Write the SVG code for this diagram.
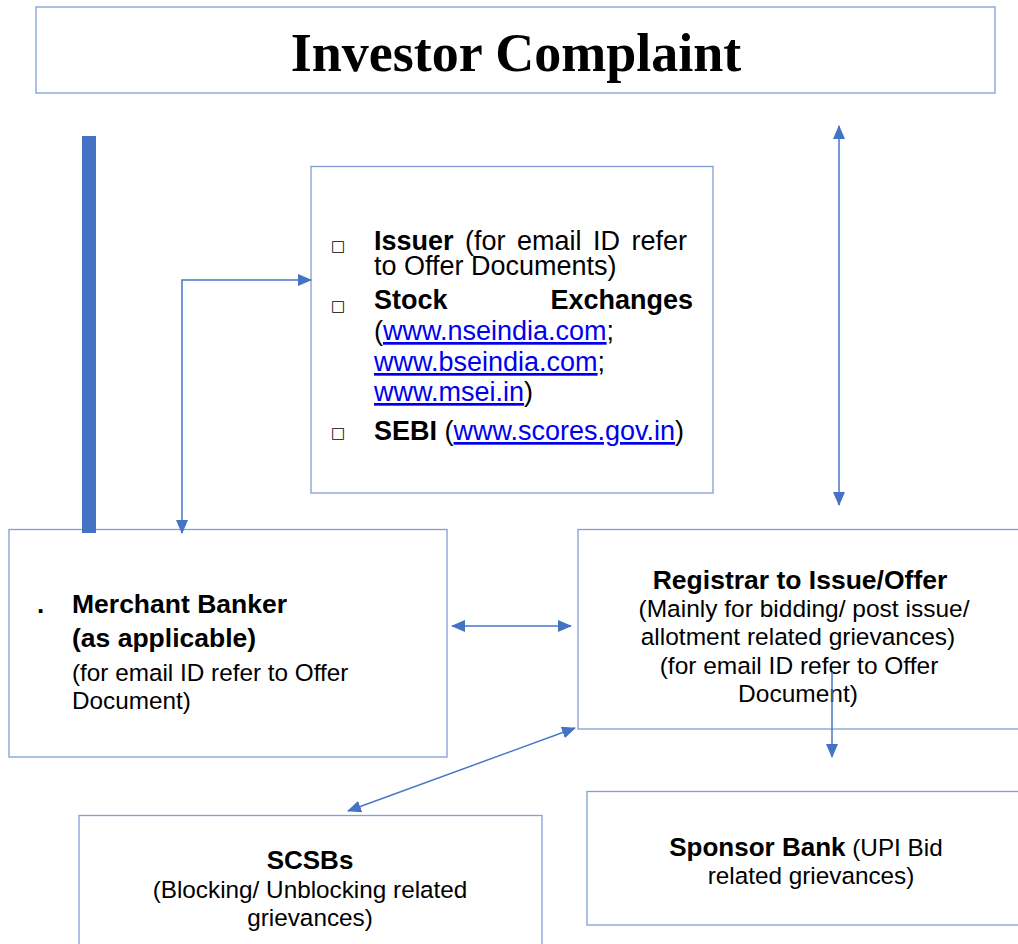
<svg xmlns="http://www.w3.org/2000/svg" width="1018" height="944" viewBox="0 0 1018 944">
<defs>
<style>
.box{fill:#ffffff;stroke:#7f9fd6;stroke-width:1.3}
.conn{fill:none;stroke:#4a76c6;stroke-width:1.5}
.t{font-family:"Liberation Sans",Arial,sans-serif;fill:#000}
.b{font-weight:bold}
.link{fill:#0000ee;text-decoration:underline}
.bul{font-family:"DejaVu Sans",sans-serif;font-size:15px;fill:#000}
</style>
<marker id="ah" markerUnits="userSpaceOnUse" markerWidth="14" markerHeight="12" refX="13" refY="6" orient="auto-start-reverse">
<path d="M0,0 L14,6 L0,12 z" fill="#4472c4"/>
</marker>
</defs>
<rect width="1018" height="944" fill="#ffffff"/>

<g id="title">
<rect class="box" x="36" y="7" width="959" height="86"/>
<text x="516" y="71" text-anchor="middle" font-family="'Liberation Serif','Times New Roman',serif" font-weight="bold" font-size="54">Investor Complaint</text>
</g>

<g id="issuer-box">
<rect class="box" x="311" y="166.5" width="402" height="326.5"/>
<g class="t" font-size="27">
<text class="bul" x="331" y="251">□</text>
<text x="374" y="250" word-spacing="4"><tspan class="b">Issuer</tspan> (for email ID refer</text>
<text x="374" y="275">to Offer Documents)</text>
<text class="bul" x="331" y="311">□</text>
<text x="374" y="309" class="b">Stock</text>
<text x="693" y="309" class="b" text-anchor="end">Exchanges</text>
<text x="374" y="340">(<tspan class="link">www.nseindia.com</tspan>;</text>
<text x="374" y="371"><tspan class="link">www.bseindia.com</tspan>;</text>
<text x="374" y="401"><tspan class="link">www.msei.in</tspan>)</text>
<text class="bul" x="331" y="438">□</text>
<text x="374" y="440"><tspan class="b">SEBI</tspan> (<tspan class="link">www.scores.gov.in</tspan>)</text>
</g>
</g>

<g id="merchant-banker">
<rect class="box" x="9" y="529.5" width="438" height="227.5"/>
<g class="t">
<text x="37" y="613" font-size="26" class="b">.</text>
<text x="72" y="613" font-size="26.5" class="b">Merchant Banker</text>
<text x="72" y="647" font-size="26.5" class="b">(as applicable)</text>
<text x="72" y="681" font-size="24.3">(for email ID refer to Offer</text>
<text x="72" y="709" font-size="24.3">Document)</text>
</g>
</g>

<g id="registrar">
<rect class="box" x="578" y="529.5" width="460" height="199.5"/>
<g class="t" text-anchor="middle">
<text x="800" y="589" font-size="26.5" class="b">Registrar to Issue/Offer</text>
<text x="804" y="617" font-size="24.5">(Mainly for bidding/ post issue/</text>
<text x="798" y="645" font-size="24.5">allotment related grievances)</text>
<text x="799" y="674" font-size="24.5">(for email ID refer to Offer</text>
<text x="798" y="702" font-size="24.5">Document)</text>
</g>
</g>

<g id="scsbs">
<rect class="box" x="79" y="815.5" width="463" height="160"/>
<g class="t" text-anchor="middle">
<text x="310" y="869" font-size="26" class="b">SCSBs</text>
<text x="310" y="898" font-size="24.3">(Blocking/ Unblocking related</text>
<text x="310" y="926" font-size="24.3">grievances)</text>
</g>
</g>

<g id="sponsor-bank">
<rect class="box" x="587" y="791.5" width="460" height="133.5"/>
<g class="t" text-anchor="middle">
<text x="806" y="856" font-size="24.3"><tspan class="b" font-size="26">Sponsor Bank</tspan> (UPI Bid</text>
<text x="811" y="884" font-size="24.3">related grievances)</text>
</g>
</g>

<g id="connectors">
<rect x="82" y="136" width="14" height="397" fill="#4472c4"/>
<polyline class="conn" points="182,533 182,280 311,280" marker-start="url(#ah)" marker-end="url(#ah)"/>
<line class="conn" x1="839" y1="126" x2="839" y2="505" marker-start="url(#ah)" marker-end="url(#ah)"/>
<line class="conn" x1="452" y1="626" x2="571" y2="626" marker-start="url(#ah)" marker-end="url(#ah)"/>
<line class="conn" x1="575" y1="728" x2="348" y2="811" marker-start="url(#ah)" marker-end="url(#ah)"/>
<line class="conn" x1="832" y1="672" x2="832" y2="757" marker-end="url(#ah)"/>
</g>
</svg>
